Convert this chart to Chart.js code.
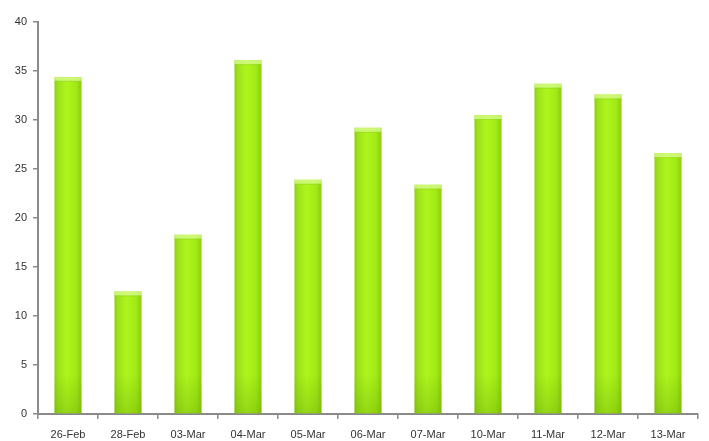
<!DOCTYPE html>
<html>
<head>
<meta charset="utf-8">
<script src="https://cdn.jsdelivr.net/npm/chart.js@4/dist/chart.umd.min.js"></script>
<style>
  html, body { margin: 0; padding: 0; background: #ffffff; }
  #wrap { width: 709px; height: 441px; position: relative; }
</style>
</head>
<body>
<div id="wrap"><canvas id="chart" width="709" height="441"></canvas></div>
<script>
// Daily values by date
const categories = ['26-Feb', '28-Feb', '03-Mar', '04-Mar', '05-Mar', '06-Mar', '07-Mar', '10-Mar', '11-Mar', '12-Mar', '13-Mar'];
const values = [34.4, 12.5, 18.3, 36.1, 23.9, 29.2, 23.4, 30.5, 33.7, 32.6, 26.6];
const yTicks = [0, 5, 10, 15, 20, 25, 30, 35, 40];

const BAR_PCT = 0.45;

// Horizontal lime gradient per bar, computed from the category scale
function barFill(c) {
  const chart = c.chart;
  const xs = chart.scales && chart.scales.x;
  if (!xs || c.dataIndex === undefined || !chart.chartArea) return '#a4ec18';
  const cx = xs.getPixelForValue(c.dataIndex);
  const w = xs.width / categories.length * BAR_PCT;
  const g = chart.ctx.createLinearGradient(cx - w / 2, 0, cx + w / 2, 0);
  g.addColorStop(0, '#8ccc10');
  g.addColorStop(0.12, '#9ee21a');
  g.addColorStop(0.45, '#aef51e');
  g.addColorStop(0.8, '#a2ea14');
  g.addColorStop(1, '#8ccc0c');
  return g;
}

// Darker base and a lighter top cap on every bar
const barShading = {
  id: 'barShading',
  afterDatasetsDraw(chart) {
    const ctx = chart.ctx;
    const meta = chart.getDatasetMeta(0);
    ctx.save();
    meta.data.forEach(bar => {
      const left = bar.x - bar.width / 2;
      const top = bar.y;
      const bottom = bar.base;
      const v = ctx.createLinearGradient(0, bottom - 40, 0, bottom);
      v.addColorStop(0, 'rgba(90,150,0,0)');
      v.addColorStop(1, 'rgba(90,150,0,0.3)');
      ctx.fillStyle = v;
      ctx.fillRect(left, Math.max(top, bottom - 40), bar.width, Math.min(40, bottom - top));
      ctx.fillStyle = 'rgba(214,250,140,0.8)';
      ctx.fillRect(left, top, bar.width, 4);
      ctx.fillStyle = 'rgba(150,210,40,0.5)';
      ctx.fillRect(left, top + 4, bar.width, 1);
    });
    ctx.restore();
  }
};

new Chart(document.getElementById('chart'), {
  type: 'bar',
  data: {
    labels: categories,
    datasets: [{
      data: values,
      backgroundColor: barFill,
      borderWidth: 0,
      categoryPercentage: 1.0,
      barPercentage: BAR_PCT
    }]
  },
  options: {
    responsive: false,
    animation: false,
    devicePixelRatio: 1,
    layout: { padding: { top: 22, right: 11, left: 0, bottom: 0 } },
    plugins: { legend: { display: false }, tooltip: { enabled: false } },
    scales: {
      x: {
        afterFit(scale) { scale.height = 27; },
        grid: {
          display: true,
          offset: true,
          drawOnChartArea: false,
          drawTicks: true,
          tickLength: 5,
          color: '#8a8a8a',
          lineWidth: 1.5
        },
        border: { display: true, color: '#8a8a8a', width: 2 },
        ticks: {
          color: '#333333',
          font: { family: 'Liberation Sans, Arial, sans-serif', size: 11 },
          padding: 9,
          maxRotation: 0
        }
      },
      y: {
        min: 0,
        max: 40,
        afterFit(scale) { scale.width = 38; },
        afterBuildTicks(scale) {
          scale.ticks = yTicks.map(v => ({ value: v }));
        },
        grid: {
          display: true,
          drawOnChartArea: false,
          drawTicks: true,
          tickLength: 5,
          color: '#8a8a8a',
          lineWidth: 1.5
        },
        border: { display: true, color: '#8a8a8a', width: 2 },
        ticks: {
          color: '#333333',
          font: { family: 'Liberation Sans, Arial, sans-serif', size: 11 },
          padding: 6
        }
      }
    }
  },
  plugins: [barShading]
});
</script>
</body>
</html>
